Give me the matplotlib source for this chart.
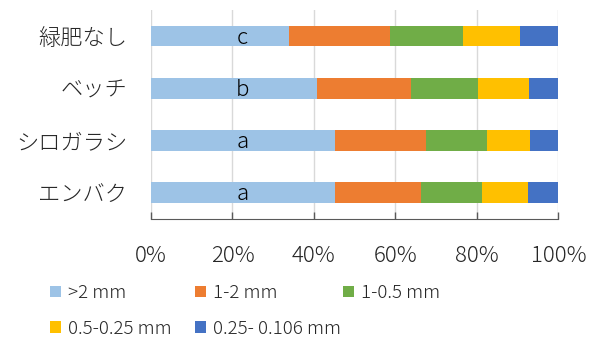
import matplotlib
matplotlib.use("Agg")
import matplotlib.pyplot as plt
from matplotlib.ticker import FuncFormatter

plt.rcParams['font.family'] = ['Noto Sans CJK JP', 'DejaVu Sans']
plt.rcParams['font.weight'] = 'light'

categories = ['緑肥なし', 'ベッチ', 'シロガラシ', 'エンバク']
series_names = ['>2 mm', '1-2 mm', '1-0.5 mm', '0.5-0.25 mm', '0.25- 0.106 mm']
values = {
    '>2 mm':          [33.9, 40.7, 45.1, 45.1],
    '1-2 mm':         [24.9, 23.2, 22.4, 21.2],
    '1-0.5 mm':       [17.7, 16.4, 14.9, 14.9],
    '0.5-0.25 mm':    [14.0, 12.5, 10.6, 11.3],
    '0.25- 0.106 mm': [9.5, 7.2, 7.0, 7.5],
}
letters = ['c', 'b', 'a', 'a']
letter_x = 22.5
colors = ['#9DC3E6', '#ED7D31', '#70AD47', '#FFC000', '#4472C4']

fig = plt.figure(figsize=(5.97, 3.44), dpi=100)
ax = fig.add_axes([0.2529, 0.3648, 0.6823, 0.6061])

y = list(range(len(categories)))
left = [0.0] * len(categories)
handles = []
for name, c in zip(series_names, colors):
    vals = values[name]
    b = ax.barh(y, vals, left=left, height=0.4, color=c, label=name, zorder=3)
    handles.append(b)
    left = [l + v for l, v in zip(left, vals)]

for yi, t in zip(y, letters):
    ax.text(letter_x, yi + 0.03, t, ha='center', va='center', fontsize=16, color='#000000', zorder=4)

ax.set_xlim(0, 100)
ax.set_ylim(len(categories) - 0.5, -0.5)
ax.set_yticks(y)
ax.set_yticklabels(categories, fontsize=16, color='#262626')
ax.set_xticks([0, 20, 40, 60, 80, 100])
ax.xaxis.set_major_formatter(FuncFormatter(lambda v, p: f'{int(v)}%'))
ax.tick_params(axis='x', labelsize=16, colors='#262626', direction='in', length=5, width=1, pad=19)
ax.tick_params(axis='x', color='#595959')
ax.tick_params(axis='y', length=0, pad=17)
ax.grid(axis='x', color='#D9D9D9', linewidth=1, zorder=0)
for s in ['top', 'right']:
    ax.spines[s].set_visible(False)
ax.spines['left'].set_visible(False)
ax.spines['bottom'].set_color('#595959')

cols = [[0, 3], [1, 4], [2]]
xs = [50 / 597, 195 / 597, 343 / 597]
for cx, idxs in zip(xs, cols):
    fig.legend([handles[i] for i in idxs], [series_names[i] for i in idxs],
               loc='upper left', bbox_to_anchor=(cx, 1 - 284 / 344),
               frameon=False, fontsize=13.5, handlelength=0.57, handleheight=0.57,
               handletextpad=0.38, labelspacing=0.95, borderaxespad=0, borderpad=0,
               labelcolor='#262626')

fig.savefig('out.png', dpi=100)
